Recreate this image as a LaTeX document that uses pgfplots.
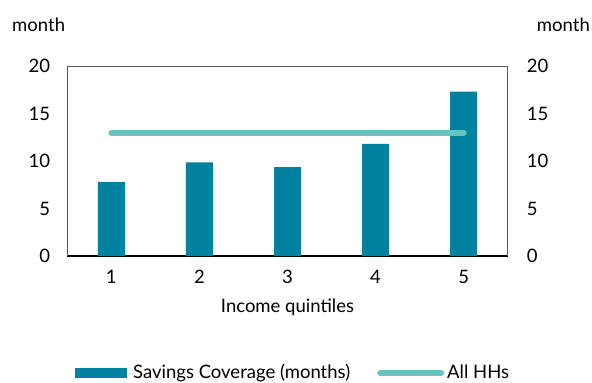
\documentclass[border=0pt]{standalone}
\usepackage{fontspec}
\setmainfont{Lato}
\usepackage{pgfplots}
\pgfplotsset{compat=1.18}
\definecolor{barblue}{RGB}{0,129,159}
\definecolor{lineteal}{RGB}{98,197,192}
\definecolor{framegray}{RGB}{89,89,89}

\begin{document}
\fontsize{18.5}{21}\selectfont
\begin{tikzpicture}[x=1pt,y=1pt]
\useasboundingbox (0,0) rectangle (592,383);

% left axis with the data
\begin{axis}[
	at={(67.3pt,127pt)}, anchor=south west, scale only axis,
	width=440.4pt, height=190pt,
	xmin=0.5, xmax=5.5, ymin=0, ymax=20,
	xtick={1,2,3,4,5}, ytick={0,5,10,15,20},
	major tick length=0pt,
	axis x line*=bottom, axis y line*=left,
	x axis line style={black, line width=1.6pt},
	y axis line style={framegray, line width=0.8pt},
	/pgf/number format/assume math mode=true,
	xticklabel style={anchor=center, yshift=-21pt},
	yticklabel style={anchor=east, inner sep=0pt, xshift=-17pt},
	xlabel={Income quintiles},
	xlabel style={at={(axis description cs:0.5,-0.268)}, anchor=center},
	legend columns=-1,
	legend style={at={(0.514,-0.616)}, anchor=center, draw=none,
		/tikz/every even column/.append style={column sep=24pt},
		nodes={inner sep=3pt}},
]

% savings coverage by quintile
\addplot[ybar, bar width=27pt, fill=barblue, draw=none,
	legend image code/.code={\fill[barblue] (0pt,-5pt) rectangle (52pt,5pt);
		\path (0pt,0pt) -- (55pt,0pt);}]
	coordinates {(1,7.8) (2,9.86) (3,9.35) (4,11.8) (5,17.3)};

% all households
\addplot[lineteal, line width=6pt, line cap=round,
	legend image code/.code={\draw[lineteal, line width=6pt, line cap=round] (3pt,0pt) -- (57pt,0pt);
		\path (0pt,0pt) -- (61pt,0pt);}]
	coordinates {(1,12.95) (5,12.95)};

\legend{Savings Coverage (months), All HHs}
\end{axis}

% right axis, labels only
\begin{axis}[
	at={(67.3pt,127pt)}, anchor=south west, scale only axis,
	width=440.4pt, height=190pt,
	xmin=0.5, xmax=5.5, ymin=0, ymax=20,
	xtick=\empty, ytick={0,5,10,15,20},
	major tick length=0pt,
	axis x line*=top, axis y line*=right,
	axis line style={framegray, line width=0.8pt},
	/pgf/number format/assume math mode=true,
	yticklabel style={anchor=west, inner sep=0pt, xshift=19pt},
]
\end{axis}

\node[anchor=west, inner sep=0pt] at (12,358) {month};
\node[anchor=east, inner sep=0pt] at (590,358) {month};
\end{tikzpicture}
\end{document}
